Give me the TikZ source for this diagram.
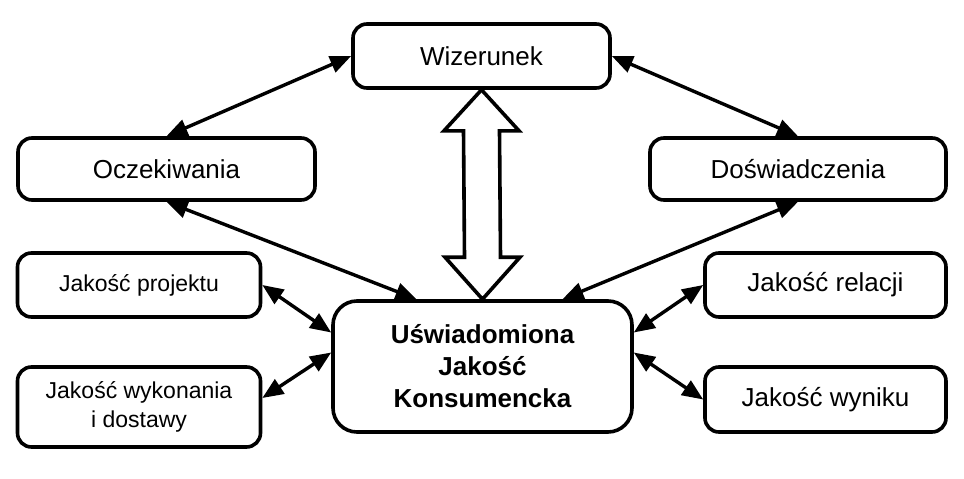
\documentclass[tikz,border=0pt]{standalone}
\usepackage{fontspec}
\setmainfont{Liberation Sans}
\usetikzlibrary{arrows.meta,calc}
\begin{document}
\begin{tikzpicture}[x=1pt,y=-1pt,
  box/.style={draw=black,line width=3.6pt,rounded corners=14pt,fill=white,
    inner sep=0pt,align=center,text=black},
  bigtext/.style={font=\fontsize{26}{31}\selectfont},
  smalltext/.style={font=\fontsize{23}{29}\selectfont},
  link/.style={line width=3.4pt,{Triangle[length=21pt,width=17pt]}-{Triangle[length=21pt,width=17pt]}},
  hollow/.style={draw=black,line width=3.6pt,fill=white,line join=miter}]
\useasboundingbox (0,0) rectangle (964,479);

% boxes
\node[box,bigtext,minimum width=257pt,minimum height=64pt] (wiz) at (481.5,56) {Wizerunek};
\node[box,bigtext,minimum width=297pt,minimum height=62pt] (oc) at (166.5,169) {Oczekiwania};
\node[box,bigtext,minimum width=296pt,minimum height=62pt] (dos) at (798,169) {Doświadczenia};
\node[box,smalltext,minimum width=243pt,minimum height=64pt] (jp) at (139,285) {Jakość projektu};
\node[box,smalltext,minimum width=243pt,minimum height=80pt] (jw) at (139,407) {Jakość wykonania\\i dostawy};
\node[box,bigtext,minimum width=241pt,minimum height=64pt] (jr) at (825.5,285) {Jakość relacji};
\node[box,bigtext,minimum width=241pt,minimum height=65pt] (jwy) at (825.5,399.5) {Jakość wyniku};
\node[box,rounded corners=24pt,minimum width=299pt,minimum height=131pt,
  font=\fontsize{26}{32}\selectfont\bfseries] (uj) at (482.5,366.5) {Uświadomiona\\Jakość\\Konsumencka};

% hollow double arrow between image and perceived quality
\coordinate (t) at (wiz.south);
\coordinate (b) at (uj.north);
\draw[hollow] (t) -- ($(t)+(37.5,41)$) -- ($(t)+(18,41)$) -- ($(b)+(18,-42)$)
  -- ($(b)+(37.5,-42)$) -- (b) -- ($(b)+(-37.5,-42)$) -- ($(b)+(-18,-42)$)
  -- ($(t)+(-18,41)$) -- ($(t)+(-37.5,41)$) -- cycle;

% connectors
\draw[link] (wiz.west) -- (oc.north);
\draw[link] (wiz.east) -- (dos.north);
\draw[link] (oc.south) -- ([xshift=-66pt]uj.north);
\draw[link] (dos.south) -- ([xshift=80pt]uj.north);
\draw[link] (jp.east) -- ([yshift=34pt]uj.west);
\draw[link] ([yshift=14pt]uj.west) -- ([yshift=9pt]jw.east);
\draw[link] (jr.west) -- ([yshift=34pt]uj.east);
\draw[link] ([yshift=14pt]uj.east) -- (jwy.west);
\end{tikzpicture}
\end{document}
